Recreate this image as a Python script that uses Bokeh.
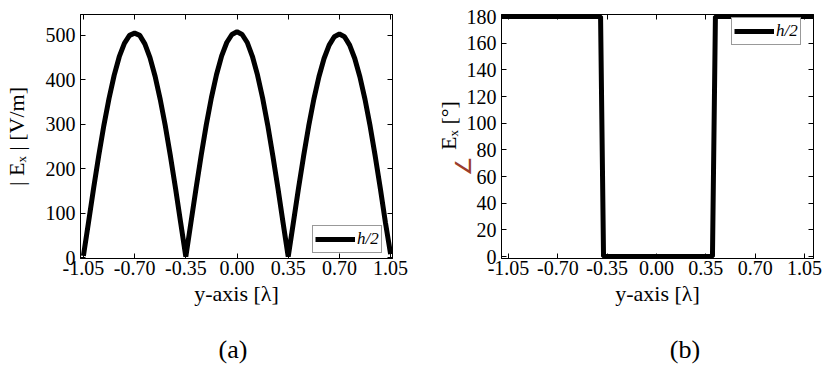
from bokeh.plotting import figure
from bokeh.layouts import row, column
from bokeh.models import (FixedTicker, LinearAxis, Range1d, Legend, LegendItem,
                          NumeralTickFormatter, CustomJSTickFormatter, Div)
from bokeh.embed import file_html
from bokeh.resources import INLINE

# ---------------- data ----------------
y_pos = [-1.050, -1.015, -0.980, -0.945, -0.910, -0.875, -0.840, -0.805, -0.770, -0.735,
         -0.700, -0.665, -0.630, -0.595, -0.560, -0.525, -0.490, -0.455, -0.420, -0.385,
         -0.350, -0.315, -0.280, -0.245, -0.210, -0.175, -0.140, -0.105, -0.070, -0.035,
         0.000, 0.035, 0.070, 0.105, 0.140, 0.175, 0.210, 0.245, 0.280, 0.315,
         0.350, 0.385, 0.420, 0.455, 0.490, 0.525, 0.560, 0.595, 0.630, 0.665,
         0.700, 0.735, 0.770, 0.805, 0.840, 0.875, 0.910, 0.945, 0.980, 1.015, 1.050]
ex_mag = [4, 80, 157, 230, 298, 358, 410, 452, 482, 500,
          505, 500, 481, 450, 408, 356, 296, 228, 155, 78,
          2, 79, 156, 230, 299, 360, 412, 454, 484, 502,
          508, 502, 484, 453, 411, 359, 298, 229, 156, 78,
          2, 78, 155, 228, 296, 356, 407, 448, 478, 497,
          503, 497, 478, 448, 407, 356, 296, 228, 155, 78, 8]

phase_y = [-1.10, -0.397, -0.376, 0.397, 0.418, 1.114]
phase_deg = [180, 180, 0, 0, 180, 180]

x_ticks = [-1.05, -0.70, -0.35, 0.0, 0.35, 0.70, 1.05]
mag_ticks = [0, 100, 200, 300, 400, 500]
phase_ticks = [0, 20, 40, 60, 80, 100, 120, 140, 160, 180]
series_label = "h/2"
captions = ["(a)", "(b)"]
angle_sign = "∠"

FONT = "Liberation Serif"
TICK_SIZE = "20px"
LABEL_SIZE = "22px"


def style(p, yticks, ylabel, ylabel_standoff):
    p.xgrid.visible = False
    p.ygrid.visible = False
    p.outline_line_color = "black"
    p.outline_line_width = 1
    p.xaxis.ticker = FixedTicker(ticks=x_ticks)
    p.xaxis.formatter = NumeralTickFormatter(format="0.00")
    p.yaxis.ticker = FixedTicker(ticks=yticks)
    for ax in (p.xaxis[0], p.yaxis[0]):
        ax.major_label_text_font = FONT
        ax.major_label_text_font_size = TICK_SIZE
        ax.major_label_text_color = "black"
        ax.axis_label_text_font = FONT
        ax.axis_label_text_font_size = LABEL_SIZE
        ax.axis_label_text_font_style = "normal"
        ax.axis_label_text_color = "black"
        ax.major_tick_in = 5
        ax.major_tick_out = 0
        ax.minor_tick_in = 0
        ax.minor_tick_out = 0
        ax.axis_line_color = "black"
        ax.major_tick_line_color = "black"
    p.xaxis.axis_label = "y-axis [λ]"
    p.xaxis.major_label_standoff = 2
    p.xaxis.axis_label_standoff = 3
    p.yaxis.axis_label = ylabel
    p.yaxis.major_label_standoff = 5
    p.yaxis.axis_label_standoff = ylabel_standoff
    # mirror axes (ticks only, empty labels)
    blank = CustomJSTickFormatter(code="return ''")
    for ticks, place in ((x_ticks, "above"), (yticks, "right")):
        ax = LinearAxis(ticker=FixedTicker(ticks=ticks), formatter=blank,
                        major_label_text_font_size="1px", major_label_standoff=0,
                        major_tick_in=5, major_tick_out=0, minor_tick_in=0,
                        minor_tick_out=0, axis_line_color="black")
        p.add_layout(ax, place)


def add_legend(p, r, loc):
    lg = Legend(items=[LegendItem(label=series_label, renderers=[r])], location=loc,
                glyph_width=40, glyph_height=22, label_standoff=2, padding=2, margin=0,
                label_text_font=FONT, label_text_font_size="17px",
                label_text_font_style="italic", label_text_color="black",
                border_line_color="#333333", border_line_width=1,
                background_fill_color="white", background_fill_alpha=1,
                spacing=0, label_height=22)
    p.add_layout(lg)


FIG_H = 315

# ---------------- (a) magnitude ----------------
pa = figure(width=413, height=FIG_H, output_backend="svg", toolbar_location=None,
            x_range=Range1d(-1.07, 1.063), y_range=Range1d(-2, 547),
            min_border_left=75, min_border_right=21, min_border_top=3, min_border_bottom=57)
ra = pa.line(y_pos, ex_mag, line_color="black", line_width=5)
style(pa, mag_ticks, "| Eₓ | [V/m]", 14)
add_legend(pa, ra, (232, 5))

# ---------------- (b) phase ----------------
pb = figure(width=414, height=FIG_H, output_backend="svg", toolbar_location=None,
            x_range=Range1d(-1.10, 1.114), y_range=Range1d(-1.5, 181.5),
            min_border_left=88, min_border_right=14, min_border_top=14, min_border_bottom=55)
rb = pb.line(phase_y, phase_deg, line_color="black", line_width=5)
style(pb, phase_ticks, "\u00a0\u00a0\u00a0\u00a0Eₓ [°]", 3)
add_legend(pb, rb, (230, 213))


def caption(text, width, pad_left, extra=""):
    html = (f'<div style="position:relative;box-sizing:border-box;width:{width}px;'
            'font-family:\'Liberation Serif\';font-size:26px;line-height:30px;'
            f'padding-top:15px;padding-left:{pad_left}px;text-align:center;color:black;">'
            f'{text}{extra}</div>')
    return Div(text=html, width=width, height=373 - FIG_H)


angle_html = ('<span style="position:absolute;left:25px;top:-169px;width:22px;height:30px;'
              'line-height:30px;text-align:center;font-size:22px;color:#9C3D2B;'
              'padding:0;transform:rotate(-90deg);">' + angle_sign + '</span>')

caps = row(caption(captions[0], 413, 43), caption(captions[1], 414, 100, angle_html))
layout = column(row(pa, pb), caps)
open("out.html", "w").write(file_html(layout, INLINE))
